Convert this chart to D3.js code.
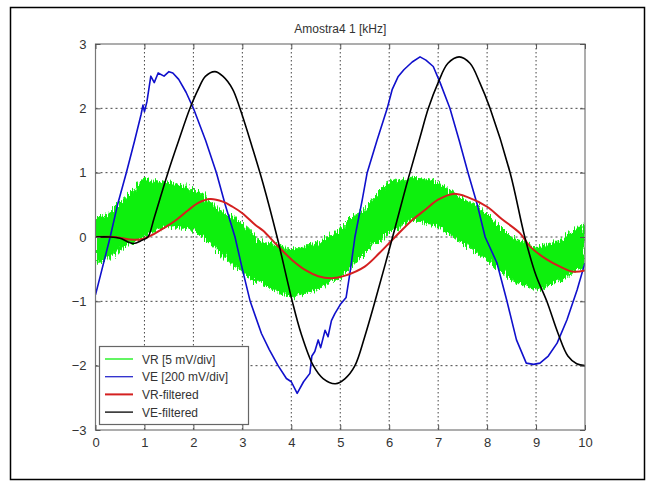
<!DOCTYPE html>
<html><head><meta charset="utf-8">
<script src="https://cdn.jsdelivr.net/npm/d3@7/dist/d3.min.js"></script>
<style>body{margin:0;background:#fff}svg{display:block}text{font-family:"Liberation Sans",Arial,sans-serif}</style>
</head><body><svg id="c" width="651" height="482"></svg>
<script>
// ---- data ----
const title = "Amostra4 1 [kHz]";
const xTicks = [0,1,2,3,4,5,6,7,8,9,10];
const yTicks = [-3,-2,-1,0,1,2,3];
const legendLabels = ["VR [5 mV/div]","VE [200 mV/div]","VR-filtered","VE-filtered"];

// VR (noisy) band: envelope at 0.25 steps
const vrX = [0,0.25,0.5,0.75,1,1.25,1.5,1.75,2,2.25,2.5,2.75,3,3.25,3.5,3.75,4,4.25,4.5,4.75,5,5.25,5.5,5.75,6,6.25,6.5,6.75,7,7.25,7.5,7.75,8,8.25,8.5,8.75,9,9.25,9.5,9.75,10];
const vrHigh = [0.3,0.35,0.53,0.7,0.89,0.86,0.84,0.8,0.73,0.6,0.42,0.33,0.2,0.02,-0.1,-0.12,-0.2,-0.15,-0.1,0.0,0.11,0.3,0.42,0.68,0.84,0.88,0.93,0.88,0.84,0.72,0.6,0.5,0.35,0.18,0.0,-0.08,-0.15,-0.1,-0.05,0.1,0.2];
const vrLow  = [-0.4,-0.35,-0.2,-0.08,0.0,0.12,0.16,0.14,0.11,-0.05,-0.2,-0.4,-0.55,-0.68,-0.77,-0.85,-0.93,-0.88,-0.82,-0.72,-0.62,-0.45,-0.25,-0.08,0.06,0.18,0.26,0.22,0.16,0.03,-0.1,-0.22,-0.36,-0.52,-0.67,-0.75,-0.82,-0.76,-0.67,-0.55,-0.46];

// VE raw
const veX = [0,0.1,0.2,0.3,0.45,0.63,0.8,0.93,0.97,1.0,1.05,1.13,1.2,1.28,1.4,1.5,1.58,1.7,1.85,2.0,2.25,2.47,2.65,2.85,3.0,3.16,3.39,3.55,3.73,3.9,4.0,4.12,4.25,4.38,4.42,4.48,4.55,4.6,4.69,4.75,4.82,4.89,5.0,5.12,5.2,5.3,5.45,5.55,5.75,5.96,6.06,6.18,6.3,6.47,6.63,6.75,6.9,7.04,7.24,7.43,7.61,7.8,7.96,8.2,8.4,8.6,8.8,8.95,9.08,9.25,9.43,9.63,9.84,10];
const veY = [-0.9,-0.6,-0.3,0,0.5,1.0,1.5,1.9,2.05,1.95,2.1,2.5,2.4,2.55,2.5,2.57,2.55,2.45,2.25,2.0,1.5,1.0,0.5,0,-0.5,-1.0,-1.5,-1.75,-2.0,-2.2,-2.25,-2.43,-2.25,-2.12,-1.85,-1.78,-1.6,-1.72,-1.45,-1.55,-1.3,-1.19,-1.05,-0.94,-0.55,0.0,0.58,1.0,1.5,2.0,2.29,2.49,2.6,2.72,2.8,2.75,2.65,2.4,2.0,1.5,1.0,0.5,0.0,-0.4,-0.98,-1.6,-1.96,-1.98,-1.96,-1.85,-1.65,-1.29,-0.82,-0.4];

// VR filtered
const vrfX = [0,0.4,0.7,0.97,1.2,1.4,1.64,1.9,2.1,2.34,2.6,2.8,3.0,3.26,3.42,3.7,4.02,4.3,4.55,4.83,5.1,5.5,5.8,6.12,6.45,6.73,7.0,7.31,7.6,8.0,8.3,8.67,8.88,9.2,9.49,9.76,10];
const vrfY = [0,0,-0.04,-0.03,0.05,0.14,0.26,0.42,0.53,0.59,0.55,0.47,0.37,0.19,0.1,-0.12,-0.36,-0.52,-0.61,-0.64,-0.6,-0.46,-0.25,0,0.25,0.42,0.58,0.67,0.62,0.47,0.28,0.06,-0.15,-0.34,-0.46,-0.54,-0.52];

// VE filtered
const vefX = [0,0.3,0.5,0.77,0.95,1.07,1.2,1.48,1.7,1.93,2.1,2.25,2.44,2.6,2.8,2.95,3.2,3.42,3.71,4.02,4.2,4.45,4.65,4.9,5.1,5.3,5.5,5.71,6.07,6.35,6.63,6.8,7.0,7.2,7.43,7.65,7.85,8.06,8.47,8.77,9.0,9.22,9.45,9.65,9.83,10];
const vefY = [0,0,-0.02,-0.1,-0.05,0,0.3,1.0,1.5,2.0,2.3,2.5,2.57,2.5,2.3,2.0,1.4,0.84,0,-1.0,-1.5,-2.0,-2.2,-2.28,-2.2,-2.0,-1.55,-1.0,0,0.8,1.55,2.0,2.4,2.7,2.8,2.7,2.4,2.0,1.0,0,-0.6,-1.0,-1.5,-1.85,-1.97,-2.0];

// ---- layout ----
const svg = d3.select("#c");
const L = 95.5, R = 585, T = 44, B = 430;
const x = d3.scaleLinear().domain([0,10]).range([L,R]);
const y = d3.scaleLinear().domain([-3,3]).range([B,T]);

// outer frame
svg.append("rect").attr("x",10.5).attr("y",7.5).attr("width",634).attr("height",472)
  .attr("fill","#fff").attr("stroke","#000").attr("stroke-width",1.5);

const defs = svg.append("defs");
const f = defs.append("filter").attr("id","noise").attr("x","-2%").attr("y","-20%").attr("width","104%").attr("height","140%");
f.append("feTurbulence").attr("type","fractalNoise").attr("baseFrequency","0.9 0.08").attr("numOctaves",2).attr("seed",3).attr("result","t");
f.append("feDisplacementMap").attr("in","SourceGraphic").attr("in2","t").attr("scale",12)
  .attr("xChannelSelector","R").attr("yChannelSelector","G");
defs.append("clipPath").attr("id","clip").append("rect").attr("x",L).attr("y",T).attr("width",R-L).attr("height",B-T);

// grid
const g = svg.append("g");
g.selectAll(".gy").data(yTicks.slice(1,-1)).join("line")
  .attr("x1",L).attr("x2",R).attr("y1",d=>y(d)).attr("y2",d=>y(d))
  .attr("stroke","#444").attr("stroke-width",1).attr("stroke-dasharray","2,3");
g.selectAll(".gx").data(xTicks.slice(1,-1)).join("line")
  .attr("y1",T).attr("y2",B).attr("x1",d=>x(d)).attr("x2",d=>x(d))
  .attr("stroke","#444").attr("stroke-width",1).attr("stroke-dasharray","1.5,2.5");

// series
const plot = svg.append("g").attr("clip-path","url(#clip)");
const vrData = vrX.map((d,i)=>({x:d,h:vrHigh[i],l:vrLow[i]}));
plot.append("path").datum(vrData)
  .attr("d", d3.area().x(d=>x(d.x)).y0(d=>y(d.l)).y1(d=>y(d.h)).curve(d3.curveMonotoneX))
  .attr("fill","#0ef00e").attr("stroke","#0ef00e").attr("stroke-width",1).attr("filter","url(#noise)");

const line = d3.line().x(d=>x(d[0])).y(d=>y(d[1]));
const lineSmooth = d3.line().x(d=>x(d[0])).y(d=>y(d[1])).curve(d3.curveCatmullRom.alpha(0.5));
plot.append("path").datum(veX.map((d,i)=>[d,veY[i]])).attr("d",line)
  .attr("fill","none").attr("stroke","#1010cc").attr("stroke-width",1.6).attr("stroke-linejoin","round");
plot.append("path").datum(vrfX.map((d,i)=>[d,vrfY[i]])).attr("d",lineSmooth)
  .attr("fill","none").attr("stroke","#d42020").attr("stroke-width",2);
plot.append("path").datum(vefX.map((d,i)=>[d,vefY[i]])).attr("d",lineSmooth)
  .attr("fill","none").attr("stroke","#000").attr("stroke-width",1.6);

// axes box
svg.append("rect").attr("x",L).attr("y",T).attr("width",R-L).attr("height",B-T)
  .attr("fill","none").attr("stroke","#777").attr("stroke-width",1.2);

const axB = d3.axisBottom(x).tickValues(xTicks).tickSize(-5).tickPadding(8).tickFormat(d3.format("d"));
const axT = d3.axisTop(x).tickValues(xTicks).tickSize(-5).tickFormat("");
const axL = d3.axisLeft(y).tickValues(yTicks).tickSize(-5).tickPadding(9).tickFormat(d3.format("d"));
const axR = d3.axisRight(y).tickValues(yTicks).tickSize(-5).tickFormat("");
function style(sel){ sel.select(".domain").remove(); sel.selectAll("line").attr("stroke","#555");
  sel.selectAll("text").attr("fill","#333").style("font-size","13px"); }
svg.append("g").attr("transform",`translate(0,${B})`).call(axB).call(style);
svg.append("g").attr("transform",`translate(0,${T})`).call(axT).call(style);
svg.append("g").attr("transform",`translate(${L},0)`).call(axL).call(style);
svg.append("g").attr("transform",`translate(${R},0)`).call(axR).call(style);

// title
svg.append("text").attr("x",(L+R)/2).attr("y",33).attr("text-anchor","middle")
  .attr("fill","#333").style("font-size","12px").text(title);

// legend
const colors = ["#0ef00e","#2a2acc","#d42020","#000"];
const lg = svg.append("g");
lg.append("rect").attr("x",99.5).attr("y",346.5).attr("width",149).attr("height",78)
  .attr("fill","#fff").attr("stroke","#666").attr("stroke-width",1.2);
const it = lg.selectAll(".it").data(legendLabels).join("g").attr("transform",(d,i)=>`translate(0,${359+i*17.7})`);
it.append("line").attr("x1",105).attr("x2",133).attr("stroke",(d,i)=>colors[i]).attr("stroke-width",(d,i)=>i==2?2:1.3);
it.append("text").attr("x",142).attr("y",4.5).attr("fill","#333").style("font-size","12px").text(d=>d);
</script></body></html>
